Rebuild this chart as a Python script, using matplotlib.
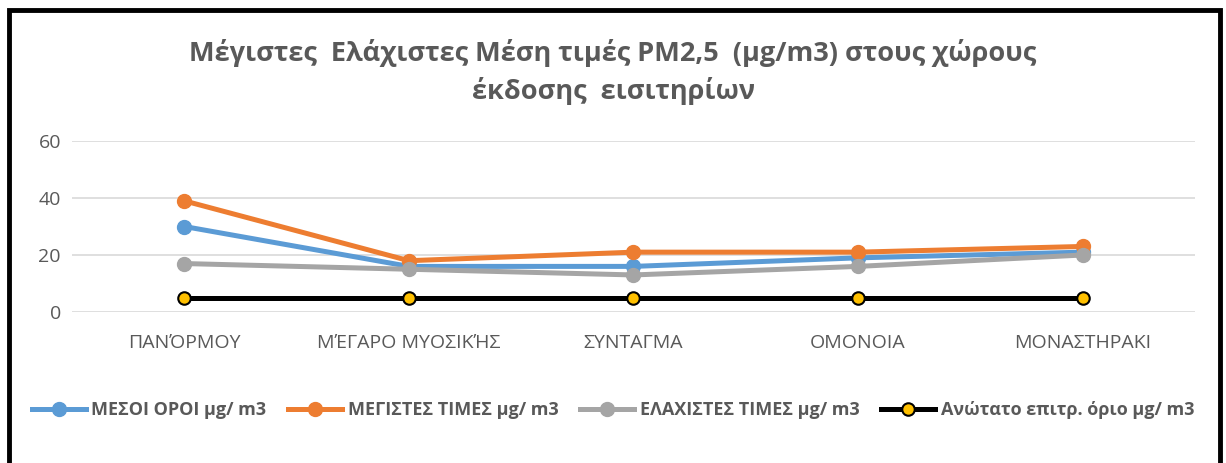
import matplotlib
matplotlib.use("Agg")
import matplotlib.pyplot as plt
from matplotlib.patches import Rectangle

categories = ["ΠΑΝΌΡΜΟΥ", "ΜΈΓΑΡΟ ΜΥΟΣΙΚΉΣ", "ΣΥΝΤΑΓΜΑ", "ΟΜΟΝΟΙΑ", "ΜΟΝΑΣΤΗΡΑΚΙ"]
mean_vals = [30, 16, 16, 19, 21]
max_vals = [39, 18, 21, 21, 23]
min_vals = [17, 15, 13, 16, 20]
limit_vals = [5, 5, 5, 5, 5]
series_names = ["ΜΕΣΟΙ ΟΡΟΙ μg/ m3", "ΜΕΓΙΣΤΕΣ ΤΙΜΕΣ μg/ m3",
                "ΕΛΑΧΙΣΤΕΣ ΤΙΜΕΣ μg/ m3", "Ανώτατο επιτρ. όριο μg/ m3"]
yticks = [0, 20, 40, 60]
title = "Μέγιστες  Ελάχιστες Μέση τιμές PM2,5  (μg/m3) στους χώρους\nέκδοσης  εισιτηρίων"

main_font = ["Open Sans", "DejaVu Sans"]

W, H = 1226, 463
fig = plt.figure(figsize=(W / 100, H / 100), dpi=100)
fig.patch.set_facecolor("white")

# border
fig.add_artist(Rectangle((9 / W, -0.05), (1220 - 9) / W, (H - 10) / H + 0.05,
                         transform=fig.transFigure, fill=False, edgecolor="black",
                         linewidth=3.5))

left, right, top, bottom = 72, 1195, 141, 312
ax = fig.add_axes([left / W, (H - bottom) / H, (right - left) / W, (bottom - top) / H])
x = list(range(len(categories)))

grey = "#595959"
ax.set_xlim(-0.5, len(categories) - 0.5)
ax.set_ylim(0, 60)
ax.set_yticks(yticks)
ax.grid(axis="y", color="#D9D9D9", linewidth=1.2)
ax.set_axisbelow(True)
for s in ax.spines.values():
    s.set_visible(False)
ax.tick_params(length=0, colors=grey, labelsize=14, pad=8)
ax.tick_params(axis="x", pad=16)
ax.set_xticks(x)
ax.set_xticklabels(categories, family=main_font)
for lab in ax.get_yticklabels():
    lab.set_family(main_font)

colors = ["#5B9BD5", "#ED7D31", "#A5A5A5", "#000000"]
series = [mean_vals, max_vals, min_vals, limit_vals]
handles = []
for i, (vals, col, name) in enumerate(zip(series, colors, series_names)):
    if i == 3:
        ln, = ax.plot(x, vals, color=col, lw=3.6, marker="o", ms=9,
                      mfc="#FFC000", mec="black", mew=1.5, label=name, zorder=3 + i * 0.1,
                      clip_on=False)
    else:
        ln, = ax.plot(x, vals, color=col, lw=3.6, marker="o", ms=10,
                      mfc=col, mec=col, label=name, zorder=3 + i * 0.1,
                      clip_on=False)
    handles.append(ln)

fig.text(0.5, (H - 72) / H, title, ha="center", va="center", fontsize=19.5,
         fontweight="bold", color=grey, family=main_font, linespacing=1.45)

leg = fig.legend(handles=handles, loc="center", bbox_to_anchor=(0.5, (H - 410) / H),
                 ncol=4, frameon=False, handlelength=3.0, columnspacing=1.2,
                 handletextpad=0.3, prop={"family": main_font, "weight": "bold", "size": 13})
for t in leg.get_texts():
    t.set_color(grey)

fig.savefig("out.png", dpi=100)
